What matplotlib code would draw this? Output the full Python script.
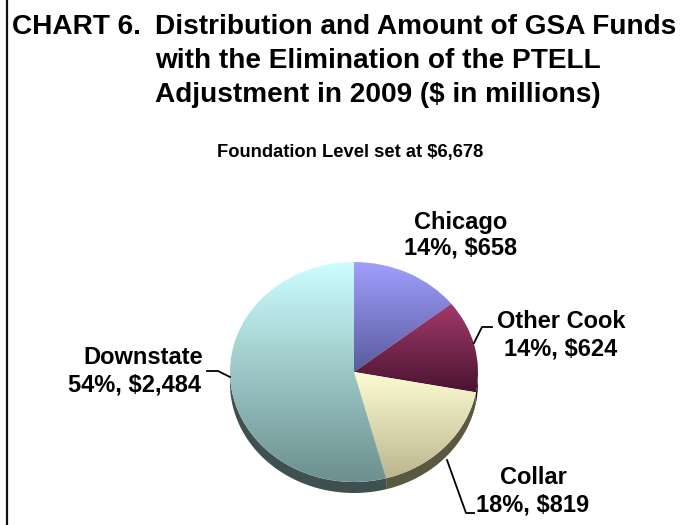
import numpy as np
import matplotlib
matplotlib.use("Agg")
import matplotlib.pyplot as plt
import matplotlib.transforms as mtransforms
from matplotlib.colors import to_rgb
from matplotlib.patches import Polygon

# GSA funds by region ($ in millions)
regions = ["Chicago", "Other Cook", "Collar", "Downstate"]
amounts = [658, 624, 819, 2484]
percents = [14, 14, 18, 54]

# face gradients (top colour, bottom colour) and side colours
face_top = ["#a0a0ff", "#a33a6c", "#fdfdd2", "#cdfefe"]
face_bottom = ["#5a5a9e", "#4a1431", "#bcb68f", "#6c8f8f"]
side_colors = ["#3a3a66", "#3a1024", "#5a593f", "#3e5050"]

W, H = 683, 525
fig = plt.figure(figsize=(W / 100, H / 100), dpi=100)
fig.patch.set_facecolor("white")

# pixel-space transform (origin top-left)
px = mtransforms.Affine2D().scale(1 / W, -1 / H).translate(0, 1) + fig.transFigure

FONT = "Liberation Sans"

# frame line on the left edge
fig.add_artist(plt.Line2D([7, 7], [0, H], transform=px, color="#111111", lw=1.6))

# title block
title_size = 20.2
fig.text(12, 27, "CHART 6.", transform=px, fontsize=title_size, family=FONT,
         weight="bold", va="center", ha="left")
title_lines = ["Distribution and Amount of GSA Funds",
               "with the Elimination of the PTELL",
               "Adjustment in 2009 ($ in millions)"]
for i, line in enumerate(title_lines):
    fig.text(155, 27 + 34 * i, line, transform=px, fontsize=title_size,
             family=FONT, weight="bold", va="center", ha="left")

fig.text(350, 152, "Foundation Level set at $6,678", transform=px, fontsize=13.2,
         family=FONT, weight="bold", va="center", ha="center")

# pie axes: elliptical face
cx, cy, rx, ry = 354, 372, 124, 110
depth = 11 / ry
ax = fig.add_axes([(cx - rx) / W, 1 - (cy + ry) / H, 2 * rx / W, 2 * ry / H])
ax.set_axis_off()

wedges, _ = ax.pie(amounts, startangle=90, counterclock=False, radius=1,
                   center=(0, 0), wedgeprops=dict(linewidth=0))
ax.set_aspect("auto")

# side walls (visible lower half)
for w, sc in zip(wedges, side_colors):
    t1, t2 = w.theta1, w.theta2
    lo, hi = max(t1, -180), min(t2, 0)
    if hi <= lo:
        lo, hi = max(t1 + 360, -180), min(t2 + 360, 0)
    if hi <= lo:
        continue
    t = np.radians(np.linspace(lo, hi, 80))
    upper = np.column_stack([np.cos(t), np.sin(t)])
    lower = np.column_stack([np.cos(t), np.sin(t) - depth])[::-1]
    ax.add_patch(Polygon(np.vstack([upper, lower]), closed=True, facecolor=sc,
                         edgecolor="none", zorder=0.5, clip_on=False))

# vertical gradient fill on each face wedge
for w, c0, c1 in zip(wedges, face_top, face_bottom):
    ext = w.get_path().get_extents()
    y0, y1 = ext.y0, ext.y1
    n = 256
    frac = np.linspace(0, 1, n)[:, None]
    top, bot = np.array(to_rgb(c0)), np.array(to_rgb(c1))
    grad = top[None, :] * (1 - frac) + bot[None, :] * frac
    img = np.repeat(grad[:, None, :], 2, axis=1)
    im = ax.imshow(img, extent=[-1.01, 1.01, y0, y1], origin="upper",
                   aspect="auto", interpolation="bilinear", zorder=1)
    im.set_clip_path(w)
    w.set_facecolor("none")

ax.set_xlim(-1, 1)
ax.set_ylim(-1, 1)

# labels
lab_size = 17
label_pos = {
    "Chicago": (461, 222, 461, 248),
    "Other Cook": (561, 321, 561, 349),
    "Downstate": (143, 358, 135, 385),
    "Collar": (533, 477, 533, 505),
}
for name, amt, pct in zip(regions, amounts, percents):
    x1, y1, x2, y2 = label_pos[name]
    fig.text(x1, y1, name, transform=px, fontsize=lab_size, family=FONT,
             weight="bold", va="center", ha="center")
    fig.text(x2, y2, f"{pct}%, ${amt:,}", transform=px, fontsize=lab_size,
             family=FONT, weight="bold", va="center", ha="center")

# leader lines
leaders = [
    ([474, 482, 492], [343, 327, 327]),
    ([207, 218, 230], [371, 371, 377]),
    ([447, 466, 474], [460, 513, 513]),
]
for xs, ys in leaders:
    fig.add_artist(plt.Line2D(xs, ys, transform=px, color="black", lw=1.3))

fig.savefig("out.png", dpi=100, facecolor="white")
